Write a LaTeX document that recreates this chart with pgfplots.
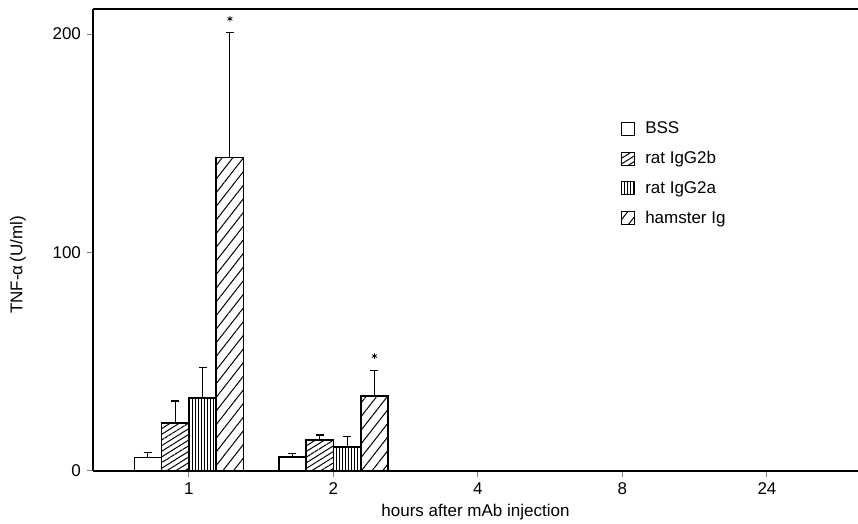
\documentclass[border=0pt]{standalone}
\usepackage{fontspec}
\setmainfont{Liberation Sans}
\usepackage{pgfplots}
\pgfplotsset{compat=1.18}
\usetikzlibrary{patterns.meta}
\begin{document}
\fontsize{8.5}{10}\selectfont
\begin{tikzpicture}
\begin{axis}[
  name=ax,
  scale only axis,
  width=382.5pt, height=231pt,
  xmin=-0.664, xmax=4.63,
  ymin=0, ymax=211.5,
  axis x line=bottom, axis y line=left,
  axis line style={line width=0.8pt, -},
  after end axis/.code={\draw[line width=0.8pt] (rel axis cs:0,1) -- (rel axis cs:1,1);},
  xtick={0,1,2,3,4},
  xticklabels={1,2,4,8,24},
  ytick={0,100,200},
  tick align=outside,
  x tick style={line width=0.5pt},
  y tick style={line width=0.5pt},
  major tick length=3pt,
  xtick pos=bottom, ytick pos=left,
  /pgf/number format/assume math mode=true,
  tick label style={font=\fontsize{8.5}{10}\selectfont},
  xlabel={hours after mAb injection},
  ylabel={TNF-α\,(U/ml)},
  xlabel style={at={(axis description cs:0.5,-0.089)}, anchor=center},
  ylabel style={at={(axis description cs:-0.098,0.446)}, anchor=center},
  legend style={draw=none, fill=none, at={(axis description cs:0.69,0.765)}, anchor=north west,
    row sep=3.6pt, column sep=3pt, font=\fontsize{8.5}{10}\selectfont, inner sep=0pt},
  legend cell align=left,
  area legend,
  legend image code/.code={\draw[#1, line width=0.5pt] (0pt,-3pt) rectangle (6.5pt,3.5pt);},
  error bars/y dir=plus,
  error bars/y explicit,
  error bars/error mark options={rotate=90, mark size=2pt, line width=0.6pt},
  error bars/error bar style={line width=0.5pt, black},
]
\addplot[ybar, bar width=0.189, bar shift=0pt, draw=black, line width=0.8pt, fill=white]
  coordinates {(-0.2835,6.1) +- (0,2.5) (0.7165,6.3) +- (0,1.6)};
\addlegendentry{BSS}
\addplot[ybar, bar width=0.189, bar shift=0pt, draw=black, line width=0.8pt,
  pattern={Lines[angle=32, distance=2.4pt, line width=0.5pt]}]
  coordinates {(-0.0945,21.9) +- (0,10.1) (0.9055,14.1) +- (0,2.4)};
\addlegendentry{rat IgG2b}
\addplot[ybar, bar width=0.189, bar shift=0pt, draw=black, line width=0.8pt,
  pattern={Lines[angle=90, distance=1.5pt, line width=0.45pt]}]
  coordinates {(0.0945,33.3) +- (0,13.9) (1.0945,11.0) +- (0,4.7)};
\addlegendentry{rat IgG2a}
\addplot[ybar, bar width=0.189, bar shift=0pt, draw=black, line width=0.8pt,
  pattern={Lines[angle=52, distance=4.2pt, line width=0.5pt]}]
  coordinates {(0.2835,143.6) +- (0,57.2) (1.2835,34.3) +- (0,11.6)};
\addlegendentry{hamster Ig}
\addplot[only marks, mark=asterisk, mark size=1.4pt, black, forget plot]
  coordinates {(0.2835,207) (1.2835,52.6)};
\end{axis}
\pgfresetboundingbox
\path ([xshift=-46.5pt,yshift=-26.5pt]ax.south west) rectangle ([yshift=4.5pt]ax.north east);
\end{tikzpicture}
\end{document}
